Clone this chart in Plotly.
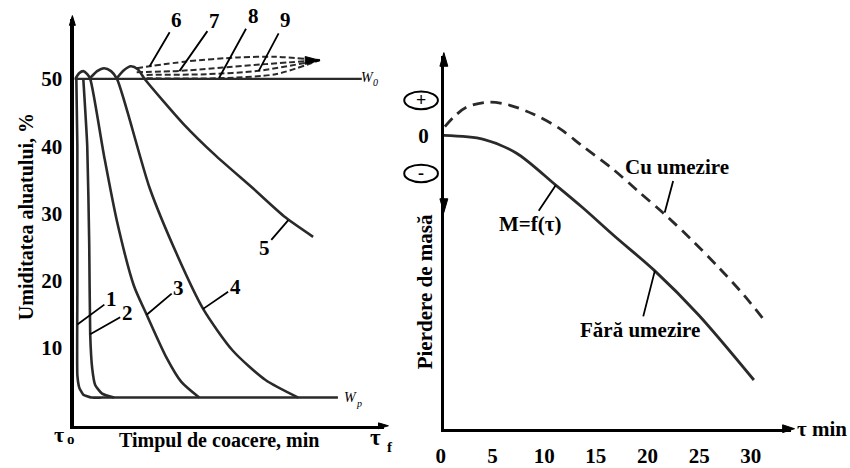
import plotly.graph_objects as go

# ---------------- Left panel: dough moisture vs baking time (schematic) ----------------
# x: relative baking time (tau0 .. tauf -> 0 .. 100), y: moisture %
left_y_ticks = [10, 20, 30, 40, 50]
w0_x = [0, 92.7]
w0_y = [50, 50]
c1_x = [0.64, 0.96, 0.96, 0.96, 1.6, 2.88, 5.43, 8.95, 85.0]
c1_y = [50, 40.0, 18.3, 5.94, 4.06, 3.04, 2.61, 2.61, 2.61]
c2_x = [2.88, 4.15, 4.79, 5.11, 5.75, 6.71, 8.95, 12.78]
c2_y = [50, 40, 25.5, 12.0, 6.96, 4.49, 3.19, 2.61]
c3_x = [0.32, 1.6, 2.88, 4.15, 5.11, 9.58, 13.74, 19.17, 23.32, 29.71, 34.5, 40.26]
c3_y = [50, 50.87, 51.16, 50.72, 50, 38.55, 28.84, 19.28, 14.93, 8.55, 4.93, 2.61]
c4_x = [5.11, 7.35, 9.58, 11.82, 13.74, 24.28, 32.91, 41.53, 51.12, 61.66, 72.2]
c4_y = [50.14, 51.16, 51.59, 51.16, 50, 33.77, 24.06, 15.8, 9.57, 5.22, 2.61]
c5_x = [13.74, 15.97, 18.21, 20.45, 22.68, 35.14, 45.69, 57.51, 68.05, 77.0]
c5_y = [50.14, 51.3, 51.88, 51.45, 50, 43.33, 38.55, 33.77, 29.42, 26.52]
f6_x = [20.1, 36.1, 53.0, 64.9, 79.2]
f6_y = [51.6, 52.6, 53.2, 53.3, 52.8]
f7_x = [20.1, 33.9, 61.7, 79.2]
f7_y = [51.0, 51.2, 52.2, 52.8]
f8_x = [23.3, 46.6, 64.9, 79.2]
f8_y = [50.1, 50.1, 50.7, 52.8]
f9_x = [23.3, 42.5, 59.4, 79.2]
f9_y = [50.6, 50.7, 51.2, 52.8]

# ---------------- Right panel: mass change vs time ----------------
right_x_ticks = [0, 5, 10, 15, 20, 25, 30]
dry_x = [0, 3.84, 7.0, 10.83, 13.42, 16.59, 20.42, 24.64, 30.01]
dry_y = [0, -0.2, -0.9, -2.55, -3.7, -5.2, -6.95, -9.2, -12.55]
wet_x = [0.1, 0.96, 2.21, 4.12, 6.04, 8.63, 11.22, 13.42, 16.3, 18.89, 21.38, 23.97, 26.56, 29.05, 30.97]
wet_y = [0.45, 0.95, 1.45, 1.7, 1.6, 1.1, 0.35, -0.55, -1.7, -2.9, -4.05, -5.35, -6.75, -8.2, -9.45]

W, H = 850, 468
SERIF = "Liberation Serif"
INK = "#2a2a2a"

fig = go.Figure()

def line(x, y, xa="x", ya="y", dash="solid", width=2.6, shape="spline", smooth=0.7, color=INK):
    fig.add_trace(go.Scatter(x=x, y=y, mode="lines", xaxis=xa, yaxis=ya,
                             line=dict(color=color, width=width, dash=dash, shape=shape, smoothing=smooth),
                             hoverinfo="skip", showlegend=False))

line(w0_x, w0_y, shape="linear", width=2.2)
line(c1_x, c1_y, smooth=0.4)
line(c2_x, c2_y, smooth=0.5)
line(c3_x, c3_y)
line(c4_x, c4_y)
line(c5_x, c5_y)
for fx, fy in [(f6_x, f6_y), (f7_x, f7_y), (f8_x, f8_y), (f9_x, f9_y)]:
    line(fx, fy, dash="6px,3px", width=2.0)

line(dry_x, dry_y, xa="x2", ya="y2", width=2.8, smooth=0.9)
line(wet_x, wet_y, xa="x2", ya="y2", dash="11px,7px", width=2.8, smooth=0.9)

ann = []
shapes = []

def px(xp):
    return xp / W

def py(yp):
    return 1 - yp / H

def text(xp, yp, t, size=21, angle=0, italic=False):
    s = "<b>%s</b>" % t
    if italic:
        s = "<i>%s</i>" % t
    ann.append(dict(xref="paper", yref="paper", x=px(xp), y=py(yp), text=s, showarrow=False,
                    textangle=angle, font=dict(family=SERIF, size=size, color="black"),
                    xanchor="center", yanchor="middle"))

def leader(x, y, dx, dy, t, xa="x", ya="y", size=21):
    ann.append(dict(xref=xa, yref=ya, x=x, y=y, ax=dx, ay=dy, text="<b>%s</b>" % t,
                    showarrow=True, arrowhead=0, arrowwidth=1.8, arrowcolor="black",
                    font=dict(family=SERIF, size=size, color="black")))

def tri(xt, yt, d, L=12, w=4):
    if d == "up":
        pts = [(xt, yt), (xt - w, yt + L), (xt + w, yt + L)]
    elif d == "down":
        pts = [(xt, yt), (xt - w, yt - L), (xt + w, yt - L)]
    else:
        pts = [(xt, yt), (xt - L, yt - w), (xt - L, yt + w)]
    path = "M " + " L ".join("%.5f,%.5f" % (px(a), py(b)) for a, b in pts) + " Z"
    shapes.append(dict(type="path", xref="paper", yref="paper", path=path,
                       fillcolor="black", line=dict(color="black", width=1)))

# left panel labels
leader(0.96, 13.48, 34, -25, "1")
leader(5.11, 12.03, 37, -21, "2")
leader(23.32, 14.93, 32, -27, "3")
leader(41.53, 15.8, 32, -22, "4")
leader(69.0, 29.0, -24, 28, "5")
leader(24.28, 51.88, 27, -46, "6")
leader(33.87, 51.16, 35, -50, "7")
leader(46.65, 50.14, 34, -62, "8")
leader(59.42, 51.16, 27, -51, "9")
text(18, 222, "Umiditatea aluatului, %", size=20, angle=-90)
text(213, 452, "Timpul de coacere, min", size=20)
text(51, 446, "τ", size=22)
text(64, 451, "o", size=15)
text(371, 449, "τ", size=23)
text(386, 459, "f", size=15)
text(363, 80, "W", size=14, italic=True)
text(371, 85, "0", size=10, italic=True)
text(346, 408, "W", size=14, italic=True)
text(354, 414, "p", size=10, italic=True)

# arrowheads
tri(315, 62, "right", L=15, w=4)
tri(65, 16, "up", L=10, w=3)
tri(384, 437, "right", L=10, w=3)
tri(440, 54, "up", L=14, w=4)
tri(440, 218, "down", L=14, w=4)
tri(794, 440, "right", L=12, w=4)

# right panel labels
leader(21.38, -3.95, 12, -45, "Cu umezire", xa="x2", ya="y2")
leader(10.83, -2.55, -26, 39, "M=f(τ)", xa="x2", ya="y2")
leader(20.42, -6.95, -15, 59, "Fără umezire", xa="x2", ya="y2")
text(421, 300, "Pierdere de masă", size=21, angle=-90)
text(822, 440, "τ min", size=21)

for yc, sym in [(103, "+"), (178, "-")]:
    shapes.append(dict(type="circle", xref="paper", yref="paper",
                       x0=px(400), x1=px(434), y0=py(yc + 9), y1=py(yc - 9),
                       line=dict(color="black", width=2)))
    text(417, yc, sym, size=18)

axis_common = dict(showgrid=False, zeroline=False, showline=True, linecolor="black", ticks="",
                   tickfont=dict(family=SERIF, size=21, color="black", weight="bold"))

fig.update_layout(
    width=W, height=H, margin=dict(l=0, r=0, t=0, b=0),
    paper_bgcolor="white", plot_bgcolor="white", showlegend=False,
    xaxis=dict(domain=[px(67), px(380)], range=[0, 100], anchor="y", showticklabels=False,
               linewidth=3, **axis_common),
    yaxis=dict(domain=[py(437), py(20)], range=[-1.59, 58.84], anchor="x", tickmode="array",
               tickvals=left_y_ticks, ticklabelstandoff=4, linewidth=4, **axis_common),
    xaxis2=dict(domain=[px(440), px(790)], range=[0, 33.56], anchor="y2", tickmode="array",
                tickvals=right_x_ticks, ticklabelstandoff=6, ticklabelshift=-3, linewidth=3,
                **axis_common),
    yaxis2=dict(domain=[py(440), py(57)], range=[-15.05, 4.1], anchor="x2", tickmode="array",
                tickvals=[0], ticklabelstandoff=8, linewidth=3, **axis_common),
    annotations=ann, shapes=shapes,
)

fig.write_html("out.html")
